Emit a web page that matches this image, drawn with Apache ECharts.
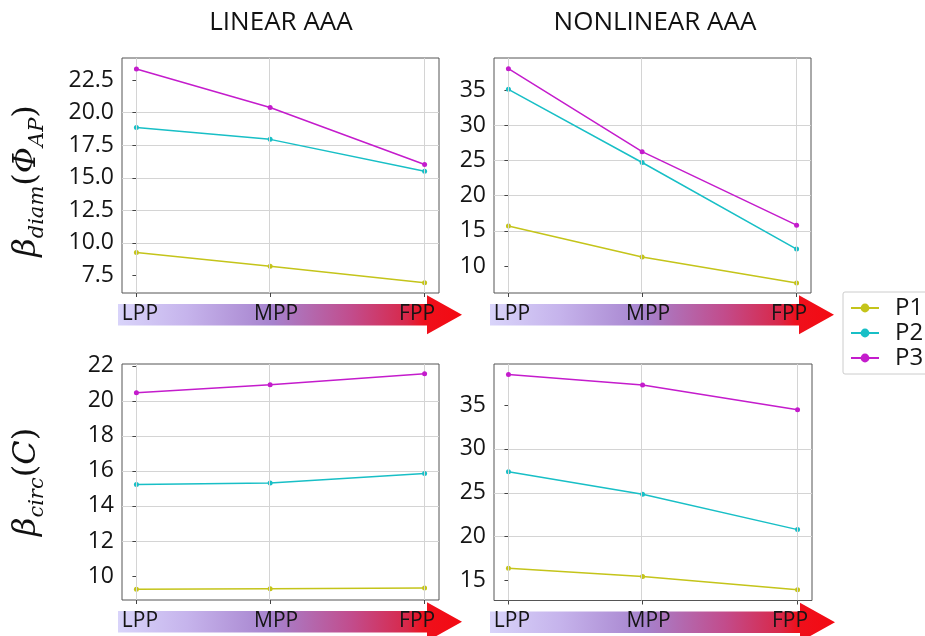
<!DOCTYPE html>
<html><head><meta charset="utf-8">
<script src="https://cdn.jsdelivr.net/npm/echarts@6/dist/echarts.min.js"></script>
<style>html,body{margin:0;padding:0;background:#fff}#c{width:925px;height:636px}</style>
</head><body><div id="c"></div>
<script>
// ---- data ----
const phases = ['LPP', 'MPP', 'FPP'];
const phasePos = [0, 0.464, 1];
const seriesNames = ['P1', 'P2', 'P3'];
const colTitles = ['LINEAR AAA', 'NONLINEAR AAA'];

const linDiamP1 = [9.26, 8.21, 6.93];
const linDiamP2 = [18.87, 17.95, 15.50];
const linDiamP3 = [23.36, 20.40, 16.02];

const nonDiamP1 = [15.67, 11.28, 7.59];
const nonDiamP2 = [35.10, 24.70, 12.40];
const nonDiamP3 = [38.03, 26.24, 15.80];

const linCircP1 = [9.24, 9.27, 9.31];
const linCircP2 = [15.22, 15.31, 15.85];
const linCircP3 = [20.46, 20.91, 21.54];

const nonCircP1 = [16.41, 15.46, 13.94];
const nonCircP2 = [27.39, 24.84, 20.80];
const nonCircP3 = [38.49, 37.28, 34.46];

const linDiamTicks = [7.5, 10, 12.5, 15, 17.5, 20, 22.5];
const nonDiamTicks = [10, 15, 20, 25, 30, 35];
const linCircTicks = [10, 12, 14, 16, 18, 20, 22];
const nonCircTicks = [15, 20, 25, 30, 35];

// ---- layout / style ----
const colors = ['#c4c41a', '#18bfc6', '#c41ccc'];
const FONT = "'Open Sans', 'Liberation Sans', sans-serif";
const MATH = "'DejaVu Serif', serif";

const grids = [
  { left: 122, top: 58, width: 317, height: 235 },
  { left: 494, top: 58, width: 317, height: 235 },
  { left: 122, top: 364, width: 317, height: 236 },
  { left: 494, top: 364, width: 318, height: 236.5 }
];
const panelData = [
  [linDiamP1, linDiamP2, linDiamP3],
  [nonDiamP1, nonDiamP2, nonDiamP3],
  [linCircP1, linCircP2, linCircP3],
  [nonCircP1, nonCircP2, nonCircP3]
];
const panelTicks = [linDiamTicks, nonDiamTicks, linCircTicks, nonCircTicks];
const yRange = [
  { min: 6.15, max: 24.2, step: 2.5, dec: 1 },
  { min: 6.16, max: 39.55, step: 5, dec: 0 },
  { min: 8.63, max: 22.1, step: 2, dec: 0 },
  { min: 12.72, max: 39.68, step: 5, dec: 0 }
];

function nearestIdx(v) {
  let bi = 0, bd = Infinity;
  phasePos.forEach((p, i) => { const d = Math.abs(p - v); if (d < bd) { bd = d; bi = i; } });
  return bi;
}
const labStyle = { fontSize: 21, fontFamily: FONT, color: '#151515' };
const labRich = {
  l0: Object.assign({ padding: [0, 0, 0, 7] }, labStyle),
  l1: Object.assign({ padding: [0, 0, 0, 12] }, labStyle),
  l2: Object.assign({ padding: [0, 15, 0, 0] }, labStyle)
};

const xAxes = grids.map((g, i) => ({
  type: 'value', gridIndex: i, min: -0.05, max: 1.05, z: 10,
  axisLine: { show: false },
  splitLine: { show: false },
  axisTick: { show: true, customValues: phasePos, length: 4, lineStyle: { color: '#444' } },
  axisLabel: {
    show: true, customValues: phasePos,
    formatter: v => { const k = nearestIdx(v); return '{l' + k + '|' + phases[k] + '}'; },
    rich: labRich,
    margin: 21, verticalAlign: 'middle', fontSize: 21, fontFamily: FONT, color: '#151515'
  }
}));

const yAxes = grids.map((g, i) => ({
  type: 'value', gridIndex: i, min: yRange[i].min, max: yRange[i].max,
  minInterval: yRange[i].step, maxInterval: yRange[i].step,
  axisLine: { show: false },
  axisTick: { show: true, customValues: panelTicks[i], length: 4, lineStyle: { color: '#444' } },
  axisLabel: {
    customValues: panelTicks[i], fontSize: 23, fontFamily: FONT, color: '#151515', margin: 8,
    formatter: v => Number(v).toFixed(yRange[i].dec)
  },
  splitLine: { show: true, showMinLine: false, showMaxLine: false, lineStyle: { color: '#d4d4d4', width: 1 } }
}));

const series = [];
panelData.forEach((arrs, gi) => {
  arrs.forEach((arr, si) => {
    const s = {
      type: 'line', name: seriesNames[si], xAxisIndex: gi, yAxisIndex: gi,
      data: phasePos.map((x, k) => [x, arr[k]]),
      symbol: 'circle', symbolSize: 5, showSymbol: true,
      lineStyle: { width: 1.5, color: colors[si] },
      itemStyle: { color: colors[si] },
      animation: false, z: 3 + si
    };
    if (si === 0) {
      s.markLine = {
        silent: true, symbol: ['none', 'none'], animation: false,
        label: { show: false },
        lineStyle: { color: '#d4d4d4', width: 1, type: 'solid' },
        emphasis: { disabled: true },
        data: phasePos.map(v => ({ xAxis: v }))
      };
    }
    series.push(s);
  });
});

// ---- decorations ----
const graphics = [];
grids.forEach(g => {
  const L = g.left - 4;
  const R = g.left + g.width;
  const bt = g.top + g.height + 11;
  const bb = bt + 21.5;
  const c = (bt + bb) / 2;
  const hs = R - 12, tip = R + 23;
  graphics.push({
    type: 'polygon', z: 0, silent: true,
    shape: { points: [[L, bt], [hs, bt], [hs, c - 19.5], [tip, c], [hs, c + 19.5], [hs, bb], [L, bb]] },
    style: {
      fill: {
        type: 'linear', x: 0, y: 0, x2: 1, y2: 0,
        colorStops: [
          { offset: 0, color: '#d9d4fa' },
          { offset: 0.2, color: '#c6b4ec' },
          { offset: 0.45, color: '#a682cd' },
          { offset: 0.68, color: '#c24c8c' },
          { offset: 0.84, color: '#d8284a' },
          { offset: 0.89, color: '#ef101c' },
          { offset: 1, color: '#f30a12' }
        ]
      }
    }
  });
});
colTitles.forEach((t, i) => {
  graphics.push({
    type: 'text', z: 5, silent: true,
    style: {
      text: t, x: [281, 655][i], y: 23, align: 'center', verticalAlign: 'middle',
      fontSize: 26, fontFamily: FONT, fill: '#111'
    }
  });
});
const mathRich = {
  b: { fontFamily: MATH, fontStyle: 'italic', fontSize: 32, verticalAlign: 'top', lineHeight: 36, fill: '#111' },
  s: { fontFamily: MATH, fontStyle: 'italic', fontSize: 21, verticalAlign: 'top', lineHeight: 22, padding: [16, 0, 0, 0], fill: '#111' },
  p: { fontFamily: MATH, fontSize: 32, verticalAlign: 'top', lineHeight: 36, fill: '#111' }
};
graphics.push({
  type: 'text', z: 5, silent: true, x: 29, y: 181, rotation: Math.PI / 2,
  style: { text: '{b|β}{s|diam}{p|(}{b|Φ}{s|AP}{p|)}', rich: mathRich, align: 'center', verticalAlign: 'middle' }
});
graphics.push({
  type: 'text', z: 5, silent: true, x: 29, y: 482, rotation: Math.PI / 2,
  style: { text: '{b|β}{s|circ}{p|(}{b|C}{p|)}', rich: mathRich, align: 'center', verticalAlign: 'middle' }
});

const chart = echarts.init(document.getElementById('c'), null, { renderer: 'canvas' });
chart.setOption({
  animation: false,
  backgroundColor: '#fff',
  grid: grids.map(g => Object.assign({ show: true, borderColor: '#555', borderWidth: 1, containLabel: false }, g)),
  xAxis: xAxes,
  yAxis: yAxes,
  legend: {
    data: seriesNames, orient: 'vertical', left: 843, top: 292,
    padding: [4, 12, 4, 7], itemGap: 1, itemWidth: 28, itemHeight: 11,
    borderColor: '#ccc', borderWidth: 1, borderRadius: 2, backgroundColor: '#fff',
    textStyle: { fontSize: 24, fontFamily: FONT, color: '#151515', padding: [0, 0, 0, 11], lineHeight: 24 }
  },
  graphic: graphics,
  series: series
});
</script>
</body></html>
